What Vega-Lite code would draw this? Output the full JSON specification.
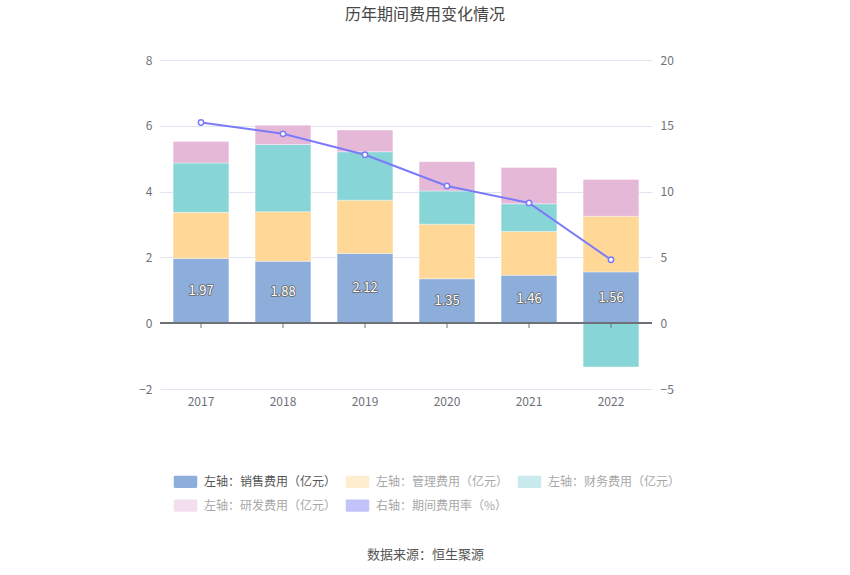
{
  "$schema": "https://vega.github.io/schema/vega-lite/v6.json",
  "width": 492,
  "height": 329,
  "autosize": {"type": "none"},
  "padding": {"left": 160, "top": 60, "right": 198, "bottom": 186},
  "background": "#ffffff",
  "config": {
    "font": "Noto Sans CJK SC",
    "view": {"stroke": null},
    "axis": {"labelFont": "Noto Sans CJK SC", "labelFontSize": 12, "labelColor": "#6E7079"}
  },
  "title": {
    "text": "历年期间费用变化情况",
    "fontSize": 16,
    "fontWeight": "normal",
    "color": "#464646",
    "font": "Noto Sans CJK SC",
    "anchor": "middle",
    "dx": 19,
    "offset": 31
  },
  "data": {
    "values": [
      {"year": "2017", "type": "左轴：销售费用（亿元）", "value": 1.97},
      {"year": "2018", "type": "左轴：销售费用（亿元）", "value": 1.88},
      {"year": "2019", "type": "左轴：销售费用（亿元）", "value": 2.12},
      {"year": "2020", "type": "左轴：销售费用（亿元）", "value": 1.35},
      {"year": "2021", "type": "左轴：销售费用（亿元）", "value": 1.46},
      {"year": "2022", "type": "左轴：销售费用（亿元）", "value": 1.56},
      {"year": "2017", "type": "左轴：管理费用（亿元）", "value": 1.40},
      {"year": "2018", "type": "左轴：管理费用（亿元）", "value": 1.51},
      {"year": "2019", "type": "左轴：管理费用（亿元）", "value": 1.62},
      {"year": "2020", "type": "左轴：管理费用（亿元）", "value": 1.66},
      {"year": "2021", "type": "左轴：管理费用（亿元）", "value": 1.33},
      {"year": "2022", "type": "左轴：管理费用（亿元）", "value": 1.69},
      {"year": "2017", "type": "左轴：财务费用（亿元）", "value": 1.50},
      {"year": "2018", "type": "左轴：财务费用（亿元）", "value": 2.04},
      {"year": "2019", "type": "左轴：财务费用（亿元）", "value": 1.47},
      {"year": "2020", "type": "左轴：财务费用（亿元）", "value": 1.01},
      {"year": "2021", "type": "左轴：财务费用（亿元）", "value": 0.84},
      {"year": "2022", "type": "左轴：财务费用（亿元）", "value": -1.33},
      {"year": "2017", "type": "左轴：研发费用（亿元）", "value": 0.65},
      {"year": "2018", "type": "左轴：研发费用（亿元）", "value": 0.59},
      {"year": "2019", "type": "左轴：研发费用（亿元）", "value": 0.66},
      {"year": "2020", "type": "左轴：研发费用（亿元）", "value": 0.89},
      {"year": "2021", "type": "左轴：研发费用（亿元）", "value": 1.10},
      {"year": "2022", "type": "左轴：研发费用（亿元）", "value": 1.12},
      {"year": "2017", "type": "右轴：期间费用率（%）", "value": 15.25},
      {"year": "2018", "type": "右轴：期间费用率（%）", "value": 14.39},
      {"year": "2019", "type": "右轴：期间费用率（%）", "value": 12.80},
      {"year": "2020", "type": "右轴：期间费用率（%）", "value": 10.43},
      {"year": "2021", "type": "右轴：期间费用率（%）", "value": 9.14},
      {"year": "2022", "type": "右轴：期间费用率（%）", "value": 4.82}
    ]
  },
  "layer": [
    {
      "transform": [{"filter": "datum.type !== '右轴：期间费用率（%）'"}],
      "layer": [
        {
          "transform": [
            {"calculate": "indexof(['左轴：销售费用（亿元）','左轴：管理费用（亿元）','左轴：财务费用（亿元）','左轴：研发费用（亿元）'], datum.type)", "as": "ord"}
          ],
          "mark": {"type": "bar", "stroke": "#ffffff", "strokeWidth": 0.6, "strokeOpacity": 0.6},
          "encoding": {
            "x": {
              "field": "year", "type": "ordinal",
              "scale": {"paddingInner": 0.32, "paddingOuter": 0.16},
              "axis": {
                "orient": "bottom", "domain": false, "ticks": false, "labelAngle": 0, "labelPadding": 7,
                "title": "数据来源：恒生聚源", "titleFontSize": 13, "titleFontWeight": "normal", "titleColor": "#555555",
                "titleX": 265, "titleY": 165, "titleBaseline": "middle", "titleFont": "Noto Sans CJK SC"
              }
            },
            "y": {
              "field": "value", "type": "quantitative", "stack": "zero",
              "scale": {"domain": [-2, 8], "nice": false, "zero": false},
              "axis": {
                "orient": "left", "values": [-2, 0, 2, 4, 6, 8], "domain": false, "ticks": false,
                "labelPadding": 8, "gridColor": "#E0E6F1", "title": null
              }
            },
            "color": {
              "field": "type", "type": "nominal",
              "scale": {
                "domain": ["左轴：销售费用（亿元）", "左轴：管理费用（亿元）", "左轴：财务费用（亿元）", "左轴：研发费用（亿元）", "右轴：期间费用率（%）"],
                "range": ["#8DADDA", "#FFD898", "#88D5D8", "#E6B8D8", "#7B7BF7"]
              },
              "legend": {
                "orient": "none", "legendX": 12, "legendY": 408, "direction": "horizontal", "columns": 3,
                "title": null, "labelFontSize": 12, "labelOffset": 5, "columnPadding": 5, "rowPadding": -7,
                "symbolSize": 625, "labelLimit": 300,
                "symbolType": "M-0.85,-0.55H0.85A0.15,0.15,0,0,1,1,-0.4V0.4A0.15,0.15,0,0,1,0.85,0.55H-0.85A0.15,0.15,0,0,1,-1,0.4V-0.4A0.15,0.15,0,0,1,-0.85,-0.55Z",
                "symbolOpacity": {"expr": "datum.value === '左轴：销售费用（亿元）' ? 1 : 0.45"},
                "labelColor": {"expr": "datum.value === '左轴：销售费用（亿元）' ? '#555555' : '#A8A8A8'"}
              }
            },
            "order": {"field": "ord", "type": "quantitative", "sort": "ascending"}
          }
        },
        {
          "mark": {"type": "rule", "color": "#6E7079", "strokeWidth": 1},
          "encoding": {
            "y": {"datum": 0, "type": "quantitative", "scale": {"domain": [-2, 8], "nice": false, "zero": false}}
          }
        },
        {
          "transform": [{"filter": "datum.type === '左轴：销售费用（亿元）'"}],
          "mark": {"type": "rule", "color": "#6E7079", "strokeWidth": 1},
          "encoding": {
            "x": {"field": "year", "type": "ordinal"},
            "y": {"datum": 0, "type": "quantitative", "scale": {"domain": [-2, 8], "nice": false, "zero": false}},
            "y2": {"datum": -0.15}
          }
        },
        {
          "transform": [
            {"filter": "datum.type === '左轴：销售费用（亿元）'"},
            {"calculate": "datum.value / 2", "as": "mid"}
          ],
          "mark": {"type": "text", "fontSize": 13, "fill": "#666666", "stroke": "#666666", "strokeWidth": 1.6, "strokeJoin": "round", "baseline": "middle", "align": "center"},
          "encoding": {
            "x": {"field": "year", "type": "ordinal"},
            "y": {"field": "mid", "type": "quantitative", "scale": {"domain": [-2, 8], "nice": false, "zero": false}},
            "text": {"field": "value", "type": "quantitative", "format": ".2f"}
          }
        },
        {
          "transform": [
            {"filter": "datum.type === '左轴：销售费用（亿元）'"},
            {"calculate": "datum.value / 2", "as": "mid"}
          ],
          "mark": {"type": "text", "fontSize": 13, "fill": "#ffffff", "baseline": "middle", "align": "center"},
          "encoding": {
            "x": {"field": "year", "type": "ordinal"},
            "y": {"field": "mid", "type": "quantitative", "scale": {"domain": [-2, 8], "nice": false, "zero": false}},
            "text": {"field": "value", "type": "quantitative", "format": ".2f"}
          }
        }
      ]
    },
    {
      "transform": [{"filter": "datum.type === '右轴：期间费用率（%）'"}],
      "mark": {"type": "line", "color": "#7B7BF7", "strokeWidth": 2, "point": {"filled": false, "fill": "#ffffff", "color": "#7B7BF7", "size": 28, "strokeWidth": 1.5}},
      "encoding": {
        "x": {"field": "year", "type": "ordinal"},
        "y": {
          "field": "value", "type": "quantitative",
          "scale": {"domain": [-5, 20], "nice": false, "zero": false},
          "axis": {"orient": "right", "values": [-5, 0, 5, 10, 15, 20], "domain": false, "ticks": false, "grid": false, "labelPadding": 8, "title": null}
        }
      }
    }
  ],
  "resolve": {"scale": {"y": "independent"}}
}
